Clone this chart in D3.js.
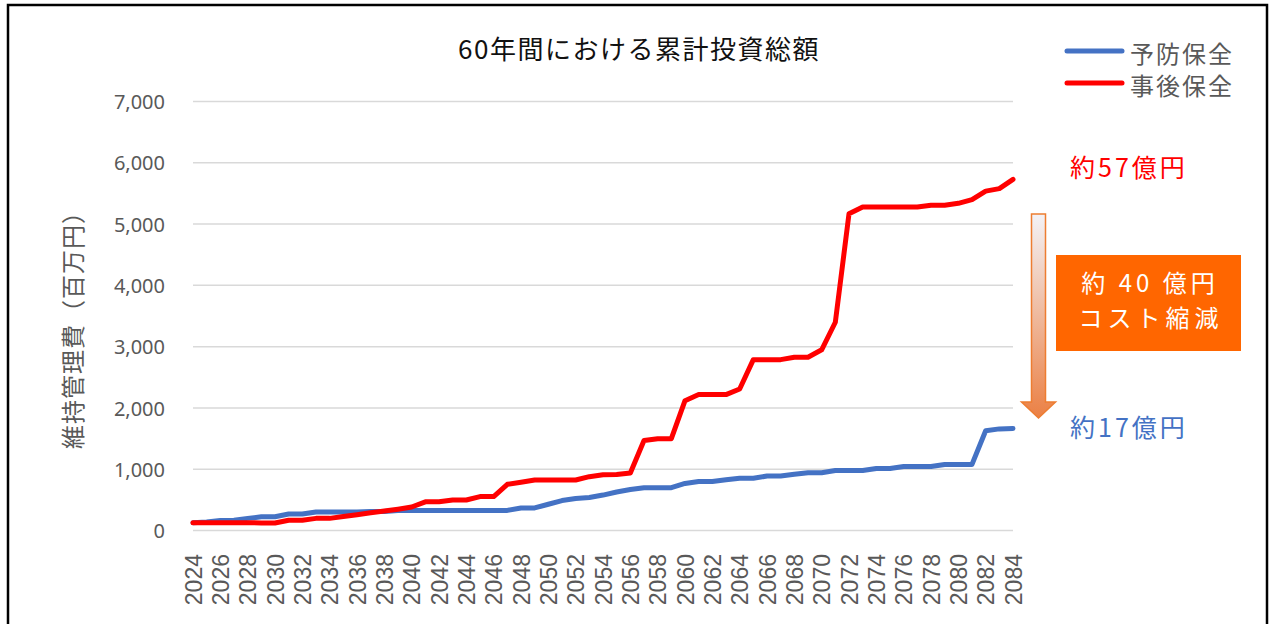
<!DOCTYPE html>
<html>
<head>
<meta charset="utf-8">
<script src="https://cdn.jsdelivr.net/npm/d3@7"></script>
<style>
  html, body { margin: 0; padding: 0; background: #fff; }
  svg { display: block; }
  .jp { font-family: "Noto Sans CJK JP", "Noto Sans", sans-serif; }
</style>
</head>
<body>
<div id="chart"></div>
<script>
// 60年間における累計投資総額 (百万円)
var years = [2024,2025,2026,2027,2028,2029,2030,2031,2032,2033,2034,2035,2036,2037,2038,2039,
  2040,2041,2042,2043,2044,2045,2046,2047,2048,2049,2050,2051,2052,2053,2054,2055,2056,2057,
  2058,2059,2060,2061,2062,2063,2064,2065,2066,2067,2068,2069,2070,2071,2072,2073,2074,2075,
  2076,2077,2078,2079,2080,2081,2082,2083,2084];

var yobou = [120,130,155,160,190,215,215,260,260,295,295,295,295,300,300,320,
  320,320,320,320,320,320,320,320,360,360,420,480,515,530,570,620,660,690,
  690,690,760,790,790,820,845,845,880,880,910,935,935,970,970,970,1005,1005,
  1035,1035,1035,1070,1070,1070,1620,1650,1655];

var jigo = [120,120,120,120,120,115,115,160,160,190,190,220,250,280,310,340,
  375,460,460,490,490,545,545,745,780,815,815,815,815,870,900,905,930,1460,
  1490,1490,2110,2210,2210,2210,2300,2780,2780,2780,2820,2820,2940,3390,5160,5270,5270,5270,
  5270,5270,5300,5300,5330,5390,5530,5570,5720];

var xTickLabels = [2024,2026,2028,2030,2032,2034,2036,2038,2040,2042,2044,2046,2048,2050,2052,
  2054,2056,2058,2060,2062,2064,2066,2068,2070,2072,2074,2076,2078,2080,2082,2084];
var yTickValues = [0,1000,2000,3000,4000,5000,6000,7000];

var seriesNames = ["予防保全", "事後保全"];
var seriesColors = ["#4472C4", "#FF0000"];

var W = 1272, H = 624;
var plot = {left: 193, right: 1013, top: 101, bottom: 530};

var svg = d3.select("#chart").append("svg")
  .attr("width", W).attr("height", H);

// frame
svg.append("rect")
  .attr("x", 8).attr("y", 5)
  .attr("width", 1259).attr("height", 700)
  .attr("fill", "#fff")
  .attr("stroke", "#000")
  .attr("stroke-width", 2.5);

var x = d3.scaleLinear().domain([2024, 2084]).range([plot.left, plot.right]);
var y = d3.scaleLinear().domain([0, 7000]).range([plot.bottom, plot.top]);

// y axis + gridlines
var yAxis = d3.axisLeft(y)
  .tickValues(yTickValues)
  .tickSize(-(plot.right - plot.left))
  .tickPadding(28)
  .tickFormat(d3.format(","));

var gy = svg.append("g")
  .attr("transform", "translate(" + plot.left + ",0)")
  .call(yAxis);
gy.select(".domain").remove();
gy.selectAll(".tick line").attr("stroke", "#D9D9D9").attr("stroke-width", 1.5);
gy.selectAll(".tick text")
  .attr("fill", "#595959")
  .style("font-family", "'Noto Sans', sans-serif")
  .style("font-size", "20px")
  .attr("dy", "0.38em");

// x axis labels
var xAxis = d3.axisBottom(x)
  .tickValues(xTickLabels)
  .tickSize(0)
  .tickFormat(d3.format("d"));

var gx = svg.append("g")
  .attr("transform", "translate(0," + plot.bottom + ")")
  .call(xAxis);
gx.select(".domain").remove();
gx.selectAll(".tick text")
  .attr("fill", "#595959")
  .style("font-family", "'Liberation Sans', Arial, sans-serif")
  .style("font-size", "23px")
  .attr("text-anchor", "end")
  .attr("transform", "rotate(-90)")
  .attr("x", -24)
  .attr("y", 0)
  .attr("dy", "0.36em");

// series lines
var line = d3.line()
  .x(function(d, i) { return x(years[i]); })
  .y(function(d) { return y(d); });

[yobou, jigo].forEach(function(s, k) {
  svg.append("path")
    .datum(s)
    .attr("fill", "none")
    .attr("stroke", seriesColors[k])
    .attr("stroke-width", 5)
    .attr("stroke-linejoin", "round")
    .attr("stroke-linecap", "round")
    .attr("d", line);
});

// title
svg.append("text")
  .attr("class", "jp")
  .attr("x", 639).attr("y", 50)
  .attr("text-anchor", "middle")
  .attr("dy", "0.35em")
  .attr("fill", "#111")
  .style("font-size", "26px")
  .style("letter-spacing", "1.5px")
  .text("60年間における累計投資総額");

// y title
svg.append("text")
  .attr("class", "jp")
  .attr("transform", "translate(74,324) rotate(-90)")
  .attr("text-anchor", "middle")
  .attr("dy", "0.35em")
  .attr("fill", "#595959")
  .style("font-size", "24px")
  .style("letter-spacing", "1px")
  .text("維持管理費（百万円）");

// legend
var legend = svg.append("g").attr("class", "legend");
var legendY = [51, 83];
seriesNames.forEach(function(name, k) {
  legend.append("line")
    .attr("x1", 1067).attr("x2", 1122)
    .attr("y1", legendY[k]).attr("y2", legendY[k])
    .attr("stroke", seriesColors[k])
    .attr("stroke-width", 5)
    .attr("stroke-linecap", "round");
  legend.append("text")
    .attr("class", "jp")
    .attr("x", 1130).attr("y", legendY[k] + 4)
    .attr("dy", "0.35em")
    .attr("fill", "#595959")
    .style("font-size", "24px")
    .style("letter-spacing", "2px")
    .text(name);
});

// end labels
svg.append("text")
  .attr("class", "jp")
  .attr("x", 1070).attr("y", 168)
  .attr("dy", "0.35em")
  .attr("fill", "#FF0000")
  .style("font-size", "25px")
  .style("letter-spacing", "3px")
  .text("約57億円");

svg.append("text")
  .attr("class", "jp")
  .attr("x", 1070).attr("y", 428)
  .attr("dy", "0.35em")
  .attr("fill", "#4472C4")
  .style("font-size", "25px")
  .style("letter-spacing", "3px")
  .text("約17億円");

// arrow with gradient
var defs = svg.append("defs");
var grad = defs.append("linearGradient")
  .attr("id", "arrowGrad")
  .attr("x1", 0).attr("y1", 0).attr("x2", 0).attr("y2", 1);
grad.append("stop").attr("offset", "0%").attr("stop-color", "#F3F2F6");
grad.append("stop").attr("offset", "100%").attr("stop-color", "#EB8044");

var ax = 1038.5, aTop = 214, aShaft = 402, aTip = 418;
svg.append("path")
  .attr("d", "M" + (ax - 7) + "," + aTop +
    "L" + (ax + 7) + "," + aTop +
    "L" + (ax + 7) + "," + aShaft +
    "L" + (ax + 17) + "," + aShaft +
    "L" + ax + "," + aTip +
    "L" + (ax - 17) + "," + aShaft +
    "L" + (ax - 7) + "," + aShaft + "Z")
  .attr("fill", "url(#arrowGrad)")
  .attr("stroke", "#ED7D31")
  .attr("stroke-width", 1.5);

// cost reduction box
svg.append("rect")
  .attr("x", 1056).attr("y", 255)
  .attr("width", 185).attr("height", 96)
  .attr("fill", "#FF6600");

svg.append("text")
  .attr("class", "jp")
  .attr("x", 1150).attr("y", 284)
  .attr("text-anchor", "middle")
  .attr("dy", "0.35em")
  .attr("fill", "#fff")
  .style("font-size", "24px")
  .style("letter-spacing", "4px")
  .text("約 40 億円");

svg.append("text")
  .attr("class", "jp")
  .attr("x", 1151).attr("y", 319)
  .attr("text-anchor", "middle")
  .attr("dy", "0.35em")
  .attr("fill", "#fff")
  .style("font-size", "24px")
  .style("letter-spacing", "5px")
  .text("コスト縮減");
</script>
</body>
</html>
